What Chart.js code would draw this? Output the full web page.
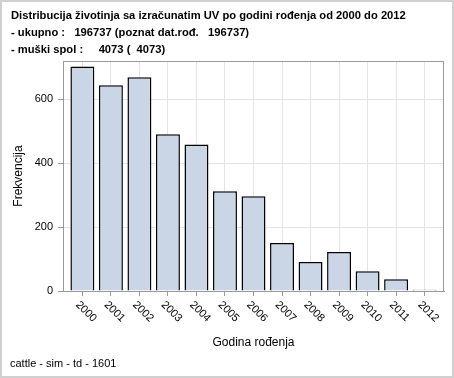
<!DOCTYPE html>
<html>
<head>
<meta charset="utf-8">
<script src="https://cdn.jsdelivr.net/npm/chart.js@4/dist/chart.umd.min.js"></script>
<style>
  html, body { margin: 0; padding: 0; background: #fff; }
  canvas { display: block; }
</style>
</head>
<body>
<canvas id="myChart" width="454" height="378"></canvas>
<script>
const years = ["2000", "2001", "2002", "2003", "2004", "2005", "2006", "2007", "2008", "2009", "2010", "2011", "2012"];
const counts = [703, 644, 669, 491, 459, 312, 297, 150, 91, 122, 62, 37, 4];
const yTicks = [0, 200, 400, 600];
const titleLines = [
  "Distribucija životinja sa izračunatim UV po godini rođenja od 2000 do 2012",
  "- ukupno :   196737 (poznat dat.rođ.   196737)",
  "- muški spol :     4073 (  4073)"
];
const xTitle = "Godina rođenja";
const yTitle = "Frekvencija";
const footnote = "cattle - sim - td - 1601";

const FONT = "'Liberation Sans', Arial, sans-serif";
const AXIS = "#9a9a9a";

// titles, frame, rotated year labels and outer border
const decor = {
  id: "decor",
  afterDraw(chart) {
    const { ctx, chartArea: a, scales: { x } } = chart;
    ctx.save();

    ctx.strokeStyle = AXIS;
    ctx.lineWidth = 1;
    ctx.strokeRect(Math.round(a.left) + 0.5, Math.round(a.top) + 0.5,
      Math.round(a.right - a.left) - 1, Math.round(a.bottom - a.top));

    ctx.fillStyle = "#000";
    ctx.font = "bold 11.2px " + FONT;
    ctx.textBaseline = "alphabetic";
    ctx.textAlign = "left";
    titleLines.forEach((t, i) => ctx.fillText(t, 11, 19 + i * 16.8));

    ctx.font = "11px " + FONT;
    ctx.textBaseline = "middle";
    years.forEach((y, i) => {
      const px = x.getPixelForValue(i);
      ctx.save();
      ctx.translate(px - 5, 303);
      ctx.rotate(Math.PI / 4);
      ctx.fillText(y, 0, 0);
      ctx.restore();
    });

    ctx.font = "12px " + FONT;
    ctx.textAlign = "center";
    ctx.textBaseline = "alphabetic";
    ctx.fillText(xTitle, (a.left + a.right) / 2, 345.5);

    ctx.save();
    ctx.translate(22, (a.top + a.bottom) / 2);
    ctx.rotate(-Math.PI / 2);
    ctx.fillText(yTitle, 0, 0);
    ctx.restore();

    ctx.font = "11px " + FONT;
    ctx.textAlign = "left";
    ctx.fillText(footnote, 10, 367);

    ctx.strokeStyle = "#d0d0d0";
    ctx.lineWidth = 2;
    ctx.strokeRect(1, 1, 452, 376);
    ctx.restore();
  }
};

new Chart(document.getElementById("myChart"), {
  type: "bar",
  data: {
    datasets: [{
      data: counts.map((v, i) => ({ x: i, y: v })),
      backgroundColor: "#cad5e5",
      borderColor: "#000",
      borderWidth: 1.5,
      barPercentage: 0.84,
      categoryPercentage: 1
    }]
  },
  options: {
    responsive: false,
    animation: false,
    layout: { padding: { top: 61, right: 10, left: 0, bottom: 0 } },
    plugins: { legend: { display: false }, tooltip: { enabled: false } },
    scales: {
      x: {
        type: "linear",
        offset: false,
        min: -0.68,
        max: 12.68,
        afterBuildTicks: s => { s.ticks = years.map((_, i) => ({ value: i })); },
        afterFit: s => { s.height = 87; },
        ticks: { display: false },
        grid: { offset: false, color: "#e4e4e4", tickColor: AXIS, tickLength: 5 },
        border: { color: AXIS }
      },
      y: {
        min: 0,
        max: 720,
        afterBuildTicks: s => { s.ticks = yTicks.map(v => ({ value: v })); },
        afterFit: s => { s.width = 63; },
        ticks: { color: "#000", padding: 5, font: { family: FONT, size: 11 } },
        grid: { color: "#e4e4e4", tickColor: AXIS, tickLength: 5 },
        border: { color: AXIS }
      }
    }
  },
  plugins: [decor]
});
</script>
</body>
</html>
